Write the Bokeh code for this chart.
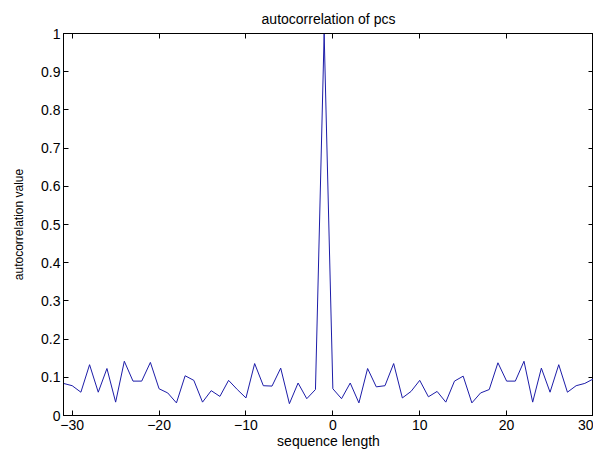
from bokeh.plotting import figure
from bokeh.models import LinearAxis, Range1d, FixedTicker, CustomLabelingPolicy
from bokeh.embed import file_html
from bokeh.resources import INLINE

lags = list(range(-31, 31))
acf = [0.084, 0.078, 0.061, 0.133, 0.061, 0.123, 0.035, 0.142, 0.090, 0.090,
       0.139, 0.070, 0.059, 0.033, 0.104, 0.092, 0.035, 0.065, 0.050, 0.092,
       0.068, 0.046, 0.136, 0.078, 0.077, 0.124, 0.031, 0.085, 0.044, 0.068,
       1.000,
       0.070, 0.044, 0.085, 0.033, 0.123, 0.075, 0.078, 0.136, 0.046, 0.063,
       0.092, 0.049, 0.063, 0.035, 0.090, 0.103, 0.033, 0.059, 0.068, 0.138,
       0.090, 0.090, 0.142, 0.035, 0.124, 0.061, 0.133, 0.061, 0.078, 0.084,
       0.096]
x_ticks = [-30, -20, -10, 0, 10, 20, 30]
y_ticks = [0, 0.1, 0.2, 0.3, 0.4, 0.5, 0.6, 0.7, 0.8, 0.9, 1]
y_labels = {0: "0", 0.1: "0.1", 0.2: "0.2", 0.3: "0.3", 0.4: "0.4", 0.5: "0.5",
            0.6: "0.6", 0.7: "0.7", 0.8: "0.8", 0.9: "0.9", 1: "1"}

FONT = "Liberation Sans"

p = figure(width=593, height=451, output_backend="svg", toolbar_location=None,
           x_range=Range1d(-31, 30), y_range=Range1d(0, 1),
           title="autocorrelation of pcs",
           min_border_left=63, min_border_right=0, min_border_top=33,
           min_border_bottom=35)
p.background_fill_color = "white"
p.border_fill_color = "white"
p.outline_line_color = "black"
p.outline_line_width = 1
p.xgrid.visible = False
p.ygrid.visible = False

p.title.align = "center"
p.title.text_font = FONT
p.title.text_font_size = "14px"
p.title.text_font_style = "normal"
p.title.text_color = "black"
p.title.offset = 8
p.title.standoff = 13

p.line(lags, acf, line_color="#1c1ca8", line_width=1)

def style(ax, size="14px"):
    ax.major_tick_in = 5
    ax.major_tick_out = 0
    ax.minor_tick_line_color = None
    ax.axis_line_color = "black"
    ax.major_tick_line_color = "black"
    ax.major_label_text_font = FONT
    ax.major_label_text_font_size = size
    ax.major_label_text_color = "black"
    ax.axis_label_text_font = FONT
    ax.axis_label_text_font_size = "14px"
    ax.axis_label_text_font_style = "normal"
    ax.axis_label_text_color = "black"

xa = p.xaxis[0]
xa.ticker = FixedTicker(ticks=x_ticks)
xa.axis_label = "sequence length"
xa.axis_label_standoff = 0
xa.major_label_standoff = 4
style(xa)

ya = p.yaxis[0]
ya.ticker = FixedTicker(ticks=y_ticks)
ya.major_label_overrides = y_labels
ya.axis_label = "autocorrelation value"
ya.axis_label_standoff = 12
ya.major_label_standoff = 3
style(ya)
ya.axis_label_text_font_size = "12px"

hide_code = "return new indices.constructor(indices.size, 0);"

top = LinearAxis(ticker=FixedTicker(ticks=x_ticks))
style(top, size="0px")
top.major_label_policy = CustomLabelingPolicy(code=hide_code)
top.major_label_standoff = 0
p.add_layout(top, "above")

right = LinearAxis(ticker=FixedTicker(ticks=y_ticks))
style(right, size="0px")
right.major_label_policy = CustomLabelingPolicy(code=hide_code)
right.major_label_standoff = 0
p.add_layout(right, "right")

open("out.html", "w").write(file_html(p, INLINE))
